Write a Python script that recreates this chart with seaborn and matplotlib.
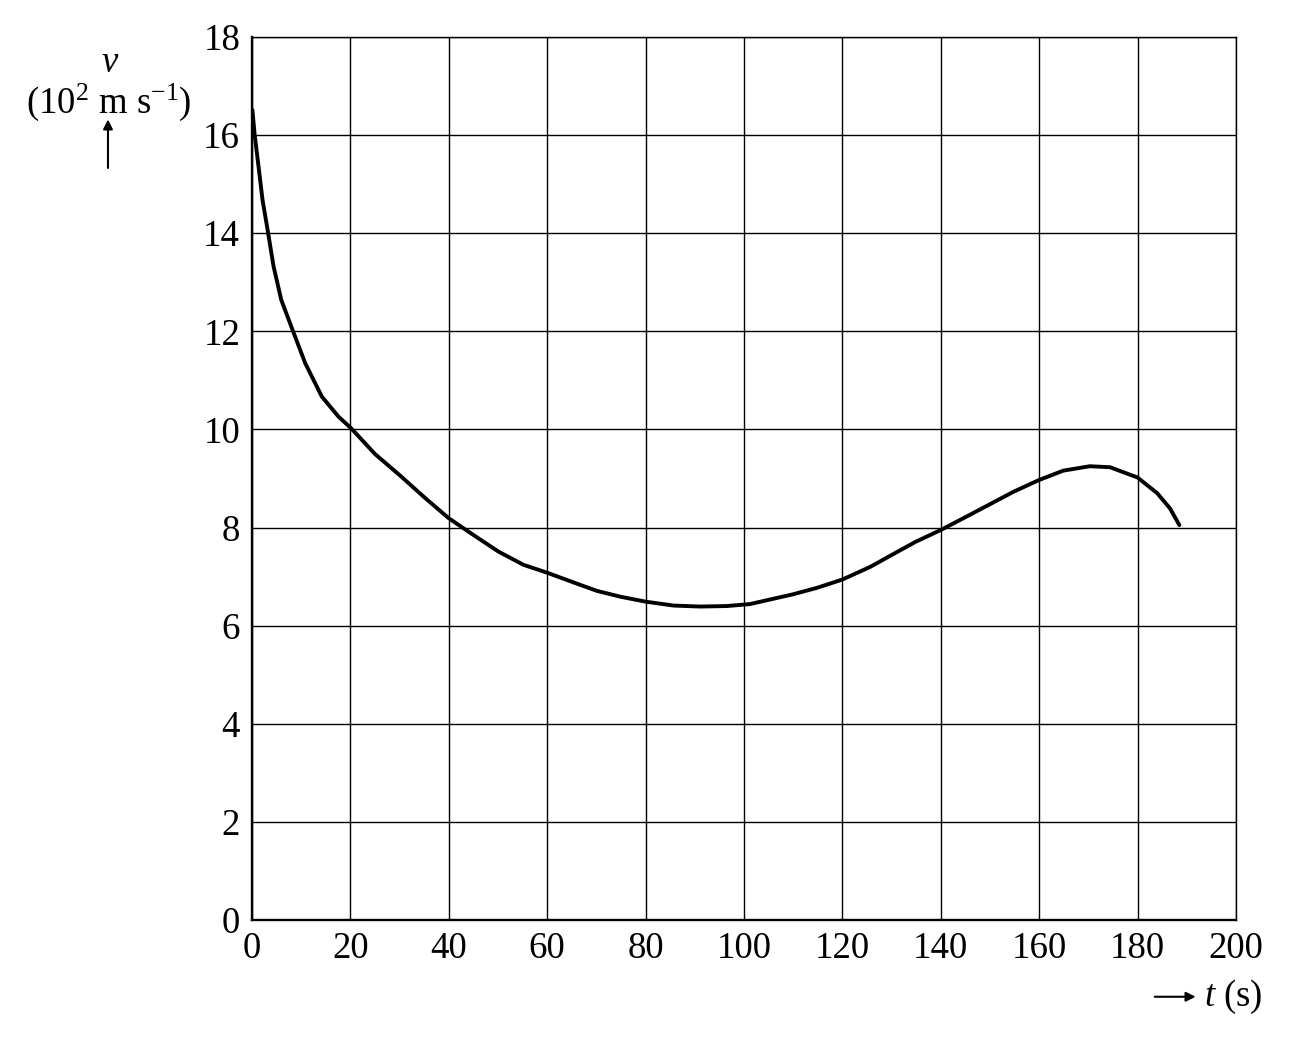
"""
Velocity v (10^2 m/s) against time t (s) on a plain exam-style grid.
Output: out.png
"""

import matplotlib.pyplot as plt
import pandas as pd
import seaborn as sns

# values
t_vals = [0.1, 0.53, 1.34, 2.15, 3.25, 4.4, 5.96, 8.25, 10.83, 14.2, 17.6,
          20.2, 25.0, 30.0, 35.0, 40.0, 45.0, 50.1, 55.2, 60.0, 65.4, 70.1,
          74.9, 80.0, 85.7, 91.1, 96.5, 101.2, 110.0, 114.8, 120.0, 125.7,
          130.0, 134.9, 140.0, 144.6, 149.7, 154.8, 160.0, 164.9, 170.3,
          174.4, 180.0, 184.0, 186.6, 188.5]
v_vals = [16.51, 16.03, 15.36, 14.68, 14.03, 13.32, 12.64, 12.03, 11.35,
          10.67, 10.26, 10.02, 9.50, 9.07, 8.62, 8.19, 7.85, 7.51, 7.24, 7.08,
          6.88, 6.71, 6.59, 6.49, 6.41, 6.39, 6.40, 6.44, 6.64, 6.77, 6.94,
          7.20, 7.44, 7.71, 7.95, 8.19, 8.46, 8.73, 8.97, 9.16, 9.25, 9.23,
          9.02, 8.70, 8.39, 8.05]

x_ticks = list(range(0, 201, 20))
y_ticks = list(range(0, 19, 2))

sns.set_theme(style="white")
plt.rcParams["font.family"] = ["Liberation Serif", "DejaVu Serif"]
plt.rcParams.update({
    "text.color": "black",
    "mathtext.fontset": "custom",
    "mathtext.rm": "Liberation Serif",
    "mathtext.it": "Liberation Serif:italic",
})

df = pd.DataFrame({"t": t_vals, "v": v_vals})

fig = plt.figure(figsize=(12.9, 10.41), dpi=100)
ax = fig.add_axes([0.1953, 0.1162, 0.7628, 0.8483])

ax.set_xlim(0, 200)
ax.set_ylim(0, 18)
ax.set_xticks(x_ticks)
ax.set_yticks(y_ticks)
ax.grid(True, color="black", lw=1.0)
ax.set_axisbelow(True)

sns.lineplot(data=df, x="t", y="v", sort=False, color="black", lw=2.8, ax=ax)

for side in ["top", "right"]:
    ax.spines[side].set_linewidth(1.0)
    ax.spines[side].set_color("black")
for side in ["left", "bottom"]:
    ax.spines[side].set_linewidth(1.7)
    ax.spines[side].set_color("black")

ax.tick_params(axis="both", direction="inout", length=11, width=1.7,
               colors="black", labelsize=26.5, pad=3)
ax.tick_params(axis="both", which="both", top=False, right=False)
ax.set_xlabel("")
ax.set_ylabel("")

# y-axis label block
fig.text(0.085, 0.940, "v", fontsize=26.5, style="italic", ha="center", va="center")
fig.text(0.084, 0.902, r"(10$^{2}$ m s$^{\mathrm{-1}}$)", fontsize=26.5,
         ha="center", va="center")
ax.annotate("", xy=(0.0837, 0.888), xytext=(0.0837, 0.836),
            xycoords="figure fraction", textcoords="figure fraction",
            arrowprops=dict(arrowstyle="-|>", color="black", lw=1.5, mutation_scale=14))

# x-axis label block
ax.annotate("", xy=(0.929, 0.0425), xytext=(0.893, 0.0425),
            xycoords="figure fraction", textcoords="figure fraction",
            arrowprops=dict(arrowstyle="-|>", color="black", lw=1.5, mutation_scale=14))
fig.text(0.933, 0.0425, r"$\it{t}$ (s)", fontsize=26.5, ha="left", va="center")

fig.savefig("out.png", dpi=100, facecolor="white")
